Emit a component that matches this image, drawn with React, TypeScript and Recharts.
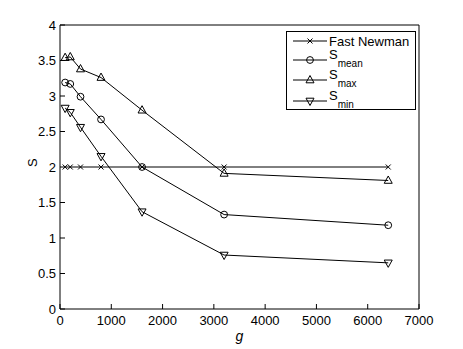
import { Line, LineChart, XAxis, YAxis } from "recharts";

const gValues = [100, 200, 400, 800, 1600, 3200, 6400];
const fastNewman = [2, 2, 2, 2, 2, 2, 2];
const sMean = [3.19, 3.17, 2.99, 2.67, 2.0, 1.33, 1.18];
const sMax = [3.54, 3.55, 3.38, 3.26, 2.8, 1.91, 1.81];
const sMin = [2.83, 2.77, 2.56, 2.15, 1.37, 0.76, 0.65];

const xTicks = [0, 1000, 2000, 3000, 4000, 5000, 6000, 7000];
const yTicks = [0, 0.5, 1, 1.5, 2, 2.5, 3, 3.5, 4];

const font = "'Liberation Sans', Arial, sans-serif";

const data = gValues.map((g, i) => ({
    g,
    fastNewman: fastNewman[i],
    sMean: sMean[i],
    sMax: sMax[i],
    sMin: sMin[i],
}));

type Mark = "x" | "o" | "up" | "down";

const marker = (kind: Mark, cx: number, cy: number, key?: string | number) => {
    const common = { stroke: "#000", strokeWidth: 1, fill: "none" };
    if (kind === "x")
        return (
            <path key={key} d={`M${cx - 2.5},${cy - 2.5}L${cx + 2.5},${cy + 2.5}M${cx - 2.5},${cy + 2.5}L${cx + 2.5},${cy - 2.5}`} {...common} />
        );
    if (kind === "o") return <circle key={key} cx={cx} cy={cy} r={3.4} {...common} />;
    if (kind === "up")
        return <polygon key={key} points={`${cx},${cy - 4.5} ${cx - 4},${cy + 2.8} ${cx + 4},${cy + 2.8}`} {...common} />;
    return <polygon key={key} points={`${cx - 4},${cy - 2.8} ${cx + 4},${cy - 2.8} ${cx},${cy + 4.5}`} {...common} />;
};

const dotFor = (kind: Mark) => (props: any) => marker(kind, props.cx, props.cy, props.index);

const legendRows: { kind: Mark; label: string; sub?: string }[] = [
    { kind: "x", label: "Fast Newman" },
    { kind: "o", label: "S", sub: "mean" },
    { kind: "up", label: "S", sub: "max" },
    { kind: "down", label: "S", sub: "min" },
];

// legend drawn outside the chart so it doesn't eat plot space
const LegendBox = () => (
    <svg width={131} height={80} style={{ display: "block", position: "absolute", left: 286, top: 31 }}>
        <rect x={0.5} y={0.5} width={129} height={78} fill="#fff" stroke="#000" />
        {legendRows.map((row, i) => {
            const y = [10, 29, 49, 70][i];
            return (
                <g key={row.label + i}>
                    <line x1={7} x2={41} y1={y} y2={y} stroke="#000" />
                    {marker(row.kind, 24, y)}
                    <text x={43} y={row.sub ? y - 1 : y + 4.5} fontSize={13} fontFamily={font} fill="#000">
                        {row.label}
                        {row.sub && (
                            <tspan fontSize={10} dy={8}>
                                {row.sub}
                            </tspan>
                        )}
                    </text>
                </g>
            );
        })}
    </svg>
);

const tickStyle = { fontSize: 13, fontFamily: font, fill: "#000" };

const App = () => (
    <div style={{ position: "absolute", left: 0, top: 0, width: 463, height: 349, background: "#fff" }}>
        <LineChart width={463} height={349} data={data} margin={{ top: 24, right: 43, bottom: 10, left: 20 }}>
            <XAxis
                dataKey="g"
                type="number"
                domain={[0, 7000]}
                ticks={xTicks}
                height={30}
                tickSize={-5}
                tickMargin={12}
                tick={tickStyle}
                stroke="#000"
                interval={0}
                label={{ value: "g", position: "insideBottom", offset: -2, style: { fontSize: 14, fontStyle: "italic", fontFamily: font, fill: "#000" } }}
            />
            <XAxis xAxisId="top" dataKey="g" orientation="top" type="number" domain={[0, 7000]} ticks={xTicks} height={1} tickSize={-5} tick={false} stroke="#000" interval={0} />
            <YAxis
                type="number"
                domain={[0, 4]}
                ticks={yTicks}
                width={40}
                tickSize={-5}
                tickMargin={9}
                tick={tickStyle}
                stroke="#000"
                interval={0}
                label={{ value: "S", angle: -90, position: "insideLeft", offset: 0, dx: 12, style: { fontSize: 13, fontFamily: font, fill: "#000" } }}
            />
            <YAxis yAxisId="right" orientation="right" type="number" domain={[0, 4]} ticks={yTicks} width={1} tickSize={-5} tick={false} stroke="#000" interval={0} />
            <Line dataKey="fastNewman" stroke="#000" strokeWidth={1} dot={dotFor("x")} isAnimationActive={false} />
            <Line dataKey="sMean" xAxisId="top" stroke="#000" strokeWidth={1} dot={dotFor("o")} isAnimationActive={false} />
            <Line dataKey="sMax" yAxisId="right" stroke="#000" strokeWidth={1} dot={dotFor("up")} isAnimationActive={false} />
            <Line dataKey="sMin" stroke="#000" strokeWidth={1} dot={dotFor("down")} isAnimationActive={false} />
        </LineChart>
        <LegendBox />
    </div>
);

export default App;
